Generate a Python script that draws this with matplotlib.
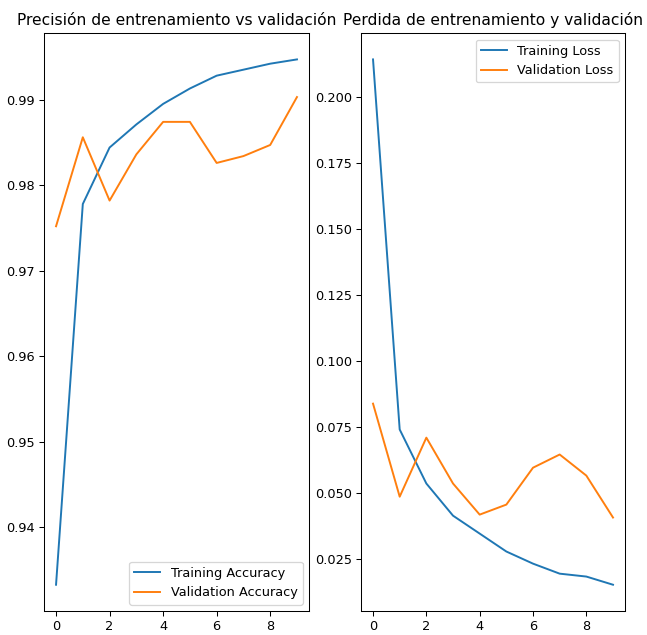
import matplotlib
matplotlib.use("Agg")
import matplotlib.pyplot as plt

epochs_range = list(range(10))

acc = [0.9333, 0.9778, 0.9844, 0.9871, 0.9895, 0.9913, 0.9928, 0.9935, 0.9942, 0.9947]
val_acc = [0.9752, 0.9856, 0.9782, 0.9836, 0.9874, 0.9874, 0.9826, 0.9834, 0.9847, 0.9903]

loss = [0.2144, 0.0740, 0.0535, 0.0413, 0.0345, 0.0277, 0.0231, 0.0193, 0.0182, 0.0151]
val_loss = [0.0838, 0.0485, 0.0709, 0.0535, 0.0417, 0.0455, 0.0595, 0.0645, 0.0565, 0.0406]

# reference looks like a slightly shrunk render, so use a lower dpi
dpi = 93
fig = plt.figure(figsize=(647 / dpi, 635 / dpi), dpi=dpi)

ax1 = fig.add_axes([0.068, 0.0378, 0.4096, 0.910])
ax1.plot(epochs_range, acc, label='Training Accuracy')
ax1.plot(epochs_range, val_acc, label='Validation Accuracy')
ax1.legend(loc='lower right')
ax1.set_title('Precisión de entrenamiento vs validación')

ax2 = fig.add_axes([0.558, 0.0378, 0.408, 0.910])
ax2.plot(epochs_range, loss, label='Training Loss')
ax2.plot(epochs_range, val_loss, label='Validation Loss')
ax2.legend(loc='upper right')
ax2.set_title('Perdida de entrenamiento y validación')

fig.savefig('out.png', dpi=dpi)
